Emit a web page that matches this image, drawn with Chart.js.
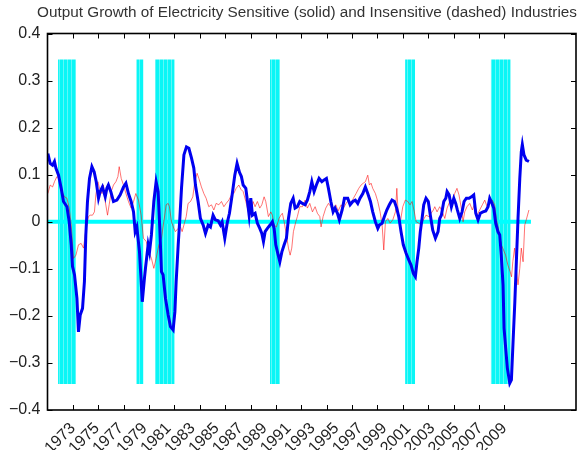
<!DOCTYPE html>
<html>
<head>
<meta charset="utf-8">
<script src="https://cdn.jsdelivr.net/npm/chart.js@4.4.1/dist/chart.umd.min.js"></script>
<style>
  html, body { margin: 0; padding: 0; background: #fff; }
  #wrap { width: 580px; height: 450px; }
</style>
</head>
<body>
<div id="wrap"><canvas id="growthChart" width="580" height="450"></canvas></div>
<script>
// -------------------- DATA --------------------
const titleText = "Output Growth of Electricity Sensitive (solid) and Insensitive (dashed) Industries";

// electricity sensitive industries (thick blue)
const sensYear = [
  1973.03, 1973.21, 1973.40, 1973.55, 1973.66, 1973.87, 1974.08, 1974.26, 1974.53, 1974.71,
  1974.87, 1974.97, 1975.13, 1975.32, 1975.44, 1975.58, 1975.76, 1975.91, 1976.02, 1976.15,
  1976.31, 1976.50, 1976.68, 1976.84, 1977.02, 1977.15, 1977.33, 1977.55, 1977.68, 1977.80,
  1977.99, 1978.20, 1978.47, 1978.73, 1978.99, 1979.18, 1979.38, 1979.59, 1979.78, 1979.91,
  1980.04, 1980.25, 1980.47, 1980.64, 1980.72, 1980.93, 1981.04, 1981.19, 1981.38, 1981.56,
  1981.72, 1981.85, 1981.98, 1982.11, 1982.30, 1982.51, 1982.69, 1982.90, 1983.04, 1983.14,
  1983.30, 1983.43, 1983.56, 1983.75, 1983.95, 1984.14, 1984.35, 1984.53, 1984.66, 1984.87,
  1985.05, 1985.27, 1985.45, 1985.66, 1985.84, 1986.05, 1986.23, 1986.45, 1986.63, 1986.76,
  1986.97, 1987.16, 1987.34, 1987.55, 1987.76, 1987.94, 1988.13, 1988.28, 1988.42, 1988.63,
  1988.76, 1988.89, 1989.02, 1989.15, 1989.36, 1989.54, 1989.73, 1989.89, 1990.02, 1990.15,
  1990.33, 1990.54, 1990.72, 1990.86, 1990.99, 1991.12, 1991.31, 1991.47, 1991.65, 1991.83,
  1991.99, 1992.17, 1992.36, 1992.51, 1992.69, 1992.88, 1993.09, 1993.30, 1993.48, 1993.67,
  1993.83, 1994.01, 1994.19, 1994.40, 1994.62, 1994.80, 1994.98, 1995.14, 1995.33, 1995.51,
  1995.66, 1995.85, 1996.00, 1996.22, 1996.40, 1996.66, 1996.85, 1997.06, 1997.26, 1997.45,
  1997.63, 1997.85, 1998.05, 1998.24, 1998.45, 1998.63, 1998.84, 1999.03, 1999.15, 1999.37,
  1999.55, 1999.74, 1999.94, 2000.15, 2000.34, 2000.52, 2000.68, 2000.86, 2001.04, 2001.26,
  2001.47, 2001.65, 2001.83, 2001.99, 2002.12, 2002.26, 2002.38, 2002.52, 2002.65, 2002.83,
  2003.01, 2003.17, 2003.36, 2003.57, 2003.78, 2003.91, 2004.04, 2004.23, 2004.39, 2004.49,
  2004.65, 2004.83, 2005.02, 2005.17, 2005.30, 2005.49, 2005.67, 2005.83, 2006.01, 2006.22,
  2006.41, 2006.59, 2006.75, 2006.93, 2007.11, 2007.32, 2007.54, 2007.72, 2007.85, 2007.97,
  2008.17, 2008.32, 2008.50, 2008.64, 2008.76, 2008.90, 2008.98, 2009.11, 2009.24, 2009.43,
  2009.56, 2009.69, 2009.83, 2009.95, 2010.08, 2010.22, 2010.34, 2010.42, 2010.55, 2010.73,
  2010.94
];
const sensValue = [
  0.145, 0.124, 0.120, 0.128, 0.114, 0.099, 0.071, 0.043, 0.032, 0.000,
  -0.049, -0.095, -0.113, -0.163, -0.234, -0.198, -0.184, -0.127, -0.028, 0.043,
  0.092, 0.117, 0.106, 0.085, 0.050, 0.064, 0.074, 0.053, 0.071, 0.078,
  0.064, 0.043, 0.046, 0.057, 0.074, 0.082, 0.060, 0.043, 0.021, -0.021,
  -0.011, -0.064, -0.170, -0.120, -0.099, -0.049, -0.064, -0.028, 0.043, 0.085,
  0.064, -0.014, -0.106, -0.113, -0.163, -0.198, -0.223, -0.230, -0.191, -0.127,
  -0.049, 0.007, 0.071, 0.142, 0.159, 0.156, 0.135, 0.114, 0.078, 0.043,
  0.007, -0.007, -0.025, -0.007, -0.011, 0.014, 0.004, 0.002, -0.007, 0.000,
  -0.035, -0.003, 0.018, 0.057, 0.099, 0.124, 0.105, 0.096, 0.078, 0.071,
  0.043, 0.014, 0.050, 0.014, 0.018, -0.003, -0.014, -0.025, -0.042, -0.021,
  -0.014, -0.007, 0.000, -0.014, -0.049, -0.064, -0.085, -0.064, -0.049, -0.035,
  0.007, 0.039, 0.050, 0.029, 0.032, 0.043, 0.039, 0.036, 0.046, 0.064,
  0.085, 0.064, 0.078, 0.092, 0.085, 0.089, 0.092, 0.071, 0.043, 0.021,
  0.029, 0.018, 0.004, 0.025, 0.050, 0.050, 0.036, 0.043, 0.046, 0.039,
  0.050, 0.060, 0.074, 0.060, 0.043, 0.021, 0.000, -0.014, -0.007, -0.003,
  0.011, 0.025, 0.036, 0.046, 0.043, 0.029, 0.011, -0.021, -0.049, -0.067,
  -0.081, -0.092, -0.110, -0.117, -0.085, -0.056, -0.021, 0.007, 0.036, 0.050,
  0.043, 0.014, -0.018, -0.035, -0.021, 0.007, 0.014, 0.043, 0.050, 0.064,
  0.057, 0.032, 0.050, 0.039, 0.025, 0.007, 0.021, 0.043, 0.050, 0.050,
  0.053, 0.057, 0.018, 0.004, 0.018, 0.021, 0.023, 0.032, 0.050, 0.043,
  0.029, -0.003, -0.021, -0.028, -0.071, -0.134, -0.226, -0.269, -0.311, -0.343,
  -0.336, -0.255, -0.170, -0.085, 0.007, 0.092, 0.149, 0.164, 0.142, 0.131,
  0.128
];

// electricity insensitive industries (thin red)
const insYear = [
  1973.03, 1973.21, 1973.40, 1973.55, 1973.74, 1973.92, 1974.13, 1974.34, 1974.53, 1974.71,
  1974.87, 1975.05, 1975.24, 1975.44, 1975.65, 1975.84, 1975.97, 1976.10, 1976.23, 1976.36,
  1976.55, 1976.70, 1976.81, 1976.97, 1977.10, 1977.29, 1977.41, 1977.55, 1977.73, 1977.86,
  1978.02, 1978.20, 1978.39, 1978.55, 1978.65, 1978.81, 1978.99, 1979.18, 1979.38, 1979.59,
  1979.78, 1979.96, 1980.17, 1980.38, 1980.56, 1980.78, 1980.99, 1981.19, 1981.38, 1981.56,
  1981.78, 1981.98, 1982.17, 1982.35, 1982.51, 1982.61, 1982.77, 1982.96, 1983.08, 1983.30,
  1983.48, 1983.61, 1983.75, 1983.93, 1984.08, 1984.27, 1984.45, 1984.61, 1984.79, 1984.93,
  1985.13, 1985.32, 1985.50, 1985.71, 1985.92, 1986.11, 1986.29, 1986.50, 1986.71, 1986.90,
  1987.08, 1987.29, 1987.50, 1987.68, 1987.87, 1988.08, 1988.24, 1988.42, 1988.63, 1988.83,
  1989.02, 1989.20, 1989.36, 1989.54, 1989.73, 1989.89, 1990.07, 1990.20, 1990.41, 1990.60,
  1990.72, 1990.86, 1991.04, 1991.25, 1991.39, 1991.51, 1991.65, 1991.83, 1991.99, 1992.12,
  1992.25, 1992.38, 1992.57, 1992.69, 1992.88, 1993.09, 1993.30, 1993.48, 1993.67, 1993.88,
  1994.09, 1994.27, 1994.46, 1994.56, 1994.72, 1994.93, 1995.14, 1995.33, 1995.51, 1995.72,
  1995.90, 1996.14, 1996.32, 1996.53, 1996.74, 1996.92, 1997.11, 1997.32, 1997.53, 1997.71,
  1997.89, 1998.05, 1998.24, 1998.37, 1998.50, 1998.63, 1998.84, 1999.03, 1999.21, 1999.37,
  1999.50, 1999.63, 1999.82, 2000.00, 2000.21, 2000.42, 2000.53, 2000.63, 2000.79, 2001.00,
  2001.20, 2001.39, 2001.57, 2001.73, 2001.91, 2002.05, 2002.26, 2002.44, 2002.62, 2002.83,
  2003.05, 2003.23, 2003.41, 2003.52, 2003.70, 2003.91, 2004.12, 2004.31, 2004.49, 2004.70,
  2004.90, 2005.09, 2005.27, 2005.43, 2005.61, 2005.75, 2005.88, 2006.06, 2006.28, 2006.48,
  2006.67, 2006.85, 2007.06, 2007.27, 2007.46, 2007.64, 2007.85, 2008.06, 2008.24, 2008.37,
  2008.58, 2008.76, 2008.94, 2009.10, 2009.28, 2009.46, 2009.57, 2009.67, 2009.81, 2009.94,
  2010.08, 2010.22, 2010.34, 2010.48, 2010.61, 2010.73, 2010.94
];
const insValue = [
  0.060, 0.078, 0.074, 0.085, 0.096, 0.092, 0.064, 0.053, 0.050, 0.029,
  -0.007, -0.078, -0.071, -0.049, -0.046, -0.056, -0.028, -0.007, 0.011, 0.014,
  0.014, 0.021, 0.057, 0.085, 0.071, 0.060, 0.078, 0.043, 0.014, 0.036,
  0.064, 0.078, 0.085, 0.096, 0.117, 0.092, 0.078, 0.060, 0.043, 0.029,
  0.043, 0.060, 0.046, 0.014, -0.035, -0.042, -0.064, -0.078, -0.099, -0.078,
  -0.049, -0.035, 0.000, 0.036, 0.039, 0.032, 0.000, -0.014, -0.021, -0.014,
  -0.011, -0.021, -0.007, 0.011, 0.039, 0.043, 0.053, 0.085, 0.103, 0.092,
  0.074, 0.060, 0.050, 0.032, 0.036, 0.025, 0.039, 0.036, 0.043, 0.032,
  0.039, 0.046, 0.057, 0.060, 0.071, 0.078, 0.069, 0.064, 0.043, 0.021,
  0.014, 0.043, 0.032, 0.043, 0.029, 0.036, 0.053, 0.043, 0.011, 0.021,
  0.014, -0.007, -0.011, 0.007, 0.014, 0.018, 0.000, -0.028, -0.056, -0.071,
  -0.056, -0.021, 0.000, 0.011, 0.032, 0.032, 0.046, 0.029, 0.039, 0.021,
  0.032, 0.018, 0.011, -0.011, 0.011, 0.029, 0.039, 0.032, 0.021, 0.036,
  0.023, 0.036, 0.029, 0.039, 0.046, 0.039, 0.050, 0.060, 0.071, 0.078,
  0.082, 0.085, 0.099, 0.078, 0.082, 0.071, 0.060, 0.043, 0.021, -0.007,
  -0.060, 0.000, 0.007, -0.003, 0.004, 0.021, 0.071, 0.021, -0.003, 0.032,
  0.046, 0.043, 0.036, 0.043, 0.021, 0.000, -0.003, -0.007, 0.004, 0.014,
  0.011, 0.018, 0.025, 0.032, 0.021, 0.032, 0.021, 0.007, 0.029, 0.043,
  0.043, 0.060, 0.071, 0.057, 0.029, 0.000, 0.021, 0.032, 0.039, 0.025,
  0.039, 0.014, 0.025, 0.036, 0.046, 0.032, 0.043, 0.046, 0.036, 0.007,
  -0.021, -0.049, -0.060, -0.071, -0.092, -0.106, -0.117, -0.085, -0.056, -0.099,
  -0.134, -0.099, -0.056, -0.085, -0.007, 0.004, 0.025
];

// recession shading (cyan bars) and zero reference line
const recessionStart = [1973.83, 1980.00, 1981.47, 1990.53, 2001.18, 2007.93];
const recessionEnd   = [1975.25, 1980.57, 1983.02, 1991.32, 2001.97, 2009.50];
const bandRange = [-0.345, 0.345];
const zeroSpan = [1973.0, 2011.1];

// axes
const xRange = [1973.0, 2014.65];
const xTickYears = [1975, 1977, 1979, 1981, 1983, 1985, 1987, 1989, 1991, 1993,
                    1995, 1997, 1999, 2001, 2003, 2005, 2007, 2009];
const xTickLabels = ["1973", "1975", "1977", "1979", "1981", "1983", "1985", "1987", "1989", "1991",
                     "1993", "1995", "1997", "1999", "2001", "2003", "2005", "2007", "2009"];
const yTickValues = [-0.4, -0.3, -0.2, -0.1, 0, 0.1, 0.2, 0.3, 0.4];
const yTickLabels = ["\u22120.4", "\u22120.3", "\u22120.2", "\u22120.1", "0", "0.1", "0.2", "0.3", "0.4"];

// -------------------- HELPERS --------------------
const toPoints = (xs, ys) => xs.map((x, i) => ({ x: x, y: ys[i] }));

// labels are spread evenly between the first and last tick mark
const firstTick = xTickYears[0];
const lastTick = xTickYears[xTickYears.length - 1];
const xLabelPos = xTickLabels.map((_, i) => firstTick + i * (lastTick - firstTick) / (xTickLabels.length - 1));

// striped cyan fill for the recession bars
function stripeFill() {
  const c = document.createElement("canvas");
  c.width = 4; c.height = 4;
  const g = c.getContext("2d");
  g.fillStyle = "#0af6f6";
  g.fillRect(0, 0, 4, 4);
  g.fillStyle = "#5ef8f8";
  g.fillRect(3, 0, 1, 4);
  return g.createPattern(c, "repeat");
}

// -------------------- TITLE, FRAME + INWARD TICKS --------------------
const framePlugin = {
  id: "frame",
  afterDraw(chart) {
    const { ctx, chartArea: a, scales } = chart;
    ctx.save();
    // title sits flush with the right edge of the plot box
    ctx.fillStyle = "#333";
    ctx.font = '15.3px "Liberation Sans", Arial, sans-serif';
    ctx.textAlign = "right";
    ctx.textBaseline = "alphabetic";
    ctx.fillText(titleText, a.right + 1, 17);

    ctx.strokeStyle = "#000";
    ctx.lineWidth = 1.6;
    ctx.strokeRect(a.left, a.top, a.right - a.left, a.bottom - a.top);
    ctx.lineWidth = 1;
    ctx.beginPath();
    xTickYears.forEach(v => {
      const px = Math.round(scales.x.getPixelForValue(v)) + 0.5;
      ctx.moveTo(px, a.bottom); ctx.lineTo(px, a.bottom - 5);
      ctx.moveTo(px, a.top); ctx.lineTo(px, a.top + 5);
    });
    yTickValues.forEach(v => {
      const py = Math.round(scales.y.getPixelForValue(v)) + 0.5;
      ctx.moveTo(a.left, py); ctx.lineTo(a.left + 5, py);
      ctx.moveTo(a.right, py); ctx.lineTo(a.right - 5, py);
    });
    ctx.stroke();
    ctx.restore();
  }
};

// -------------------- CHART --------------------
Chart.defaults.font.family = '"Liberation Sans", Arial, sans-serif';
Chart.defaults.color = "#222";

const bandColor = stripeFill();
const bandSets = recessionStart.map((s, i) => ({
  data: [{ x: s, y: bandRange[1] }, { x: recessionEnd[i], y: bandRange[1] }],
  borderWidth: 0,
  pointRadius: 0,
  backgroundColor: bandColor,
  fill: { value: bandRange[0] },
  order: 3
}));

const ctx = document.getElementById("growthChart").getContext("2d");
const chart = new Chart(ctx, {
  type: "line",
  data: {
    datasets: [
      {
        label: "Sensitive",
        data: toPoints(sensYear, sensValue),
        borderColor: "#0000f0",
        borderWidth: 3,
        pointRadius: 0,
        fill: false,
        order: 0
      },
      {
        label: "Insensitive",
        data: toPoints(insYear, insValue),
        borderColor: "rgba(255,0,0,0.55)",
        borderWidth: 1,
        pointRadius: 0,
        fill: false,
        order: 1
      },
      {
        label: "zero",
        data: [{ x: zeroSpan[0], y: 0 }, { x: zeroSpan[1], y: 0 }],
        borderColor: "#00ffff",
        borderWidth: 4,
        pointRadius: 0,
        fill: false,
        order: 2
      },
      ...bandSets
    ]
  },
  options: {
    responsive: false,
    animation: false,
    layout: { padding: { left: 0, right: 4, top: 33.5, bottom: 0 } },
    plugins: {
      legend: { display: false },
      tooltip: { enabled: false },
      title: { display: false }
    },
    scales: {
      x: {
        type: "linear",
        min: xRange[0],
        max: xRange[1],
        grid: { display: false, drawTicks: false },
        border: { display: false },
        afterBuildTicks: s => { s.ticks = xLabelPos.map(v => ({ value: v })); },
        afterFit: s => { s.height = 40; },
        ticks: {
          autoSkip: false,
          minRotation: 45,
          maxRotation: 45,
          padding: 9,
          font: { size: 16 },
          callback: (v, i) => xTickLabels[i]
        }
      },
      y: {
        min: -0.4,
        max: 0.4,
        grid: { display: false, drawTicks: false },
        border: { display: false },
        afterBuildTicks: s => { s.ticks = yTickValues.map(v => ({ value: v })); },
        afterFit: s => { s.width = 47.5; },
        ticks: {
          padding: 7,
          font: { size: 16 },
          callback: (v, i) => yTickLabels[i]
        }
      }
    }
  },
  plugins: [framePlugin]
});
</script>
</body>
</html>
